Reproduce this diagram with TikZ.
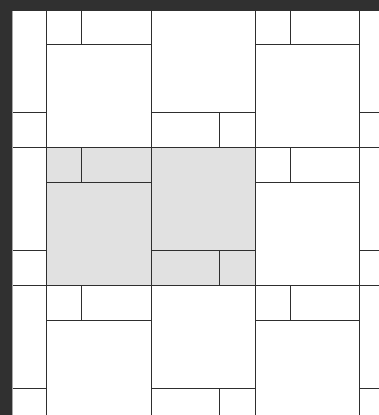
\documentclass[tikz,border=0pt]{standalone}
\definecolor{darkbg}{HTML}{303030}
\definecolor{tileink}{HTML}{2E2E2E}
\definecolor{tilegray}{HTML}{E1E1E1}
\definecolor{canvasedge}{HTML}{A8A8A8}
\tikzset{
  tileline/.style={draw=tileink, line width=1pt},
  shadedtile/.style={fill=tilegray},
}
\begin{document}
\begin{tikzpicture}[x=1pt,y=-1pt]
\useasboundingbox (0,0) rectangle (379,415);
\fill[darkbg] (0,0) rectangle (379,415);
\fill[white] (12,11) rectangle (379,415);
\begin{scope}
  \clip (12,11) rectangle (379,415);
  \fill[shadedtile] (46,147.6) rectangle (255,285.4);
  % column and row boundaries
  \foreach \x in {46,151.5,255,359.6}
    \draw[tileline] (\x,0) -- (\x,430);
  \foreach \y in {147.6,285.4}
    \draw[tileline] (0,\y) -- (379,\y);
  % type A cells: strip on top, small square at left
  \foreach \xl/\xr in {46/151.5,255/359.6}
    \foreach \yt in {9.8,147.6,285.4} {
      \draw[tileline] (\xl,\yt+35) -- (\xr,\yt+35);
      \draw[tileline] (\xl+35.5,\yt) -- (\xl+35.5,\yt+35);
    }
  % type B cells: strip at bottom, small square at right
  \foreach \xl/\xr in {-58.5/46,151.5/255,359.6/464}
    \foreach \yb in {147.6,285.4,423.2} {
      \draw[tileline] (\xl,\yb-35) -- (\xr,\yb-35);
      \draw[tileline] (\xr-35.5,\yb-35) -- (\xr-35.5,\yb);
    }
\end{scope}
\draw[canvasedge, line width=1pt] (12.5,11) -- (12.5,415);
\end{tikzpicture}
\end{document}
